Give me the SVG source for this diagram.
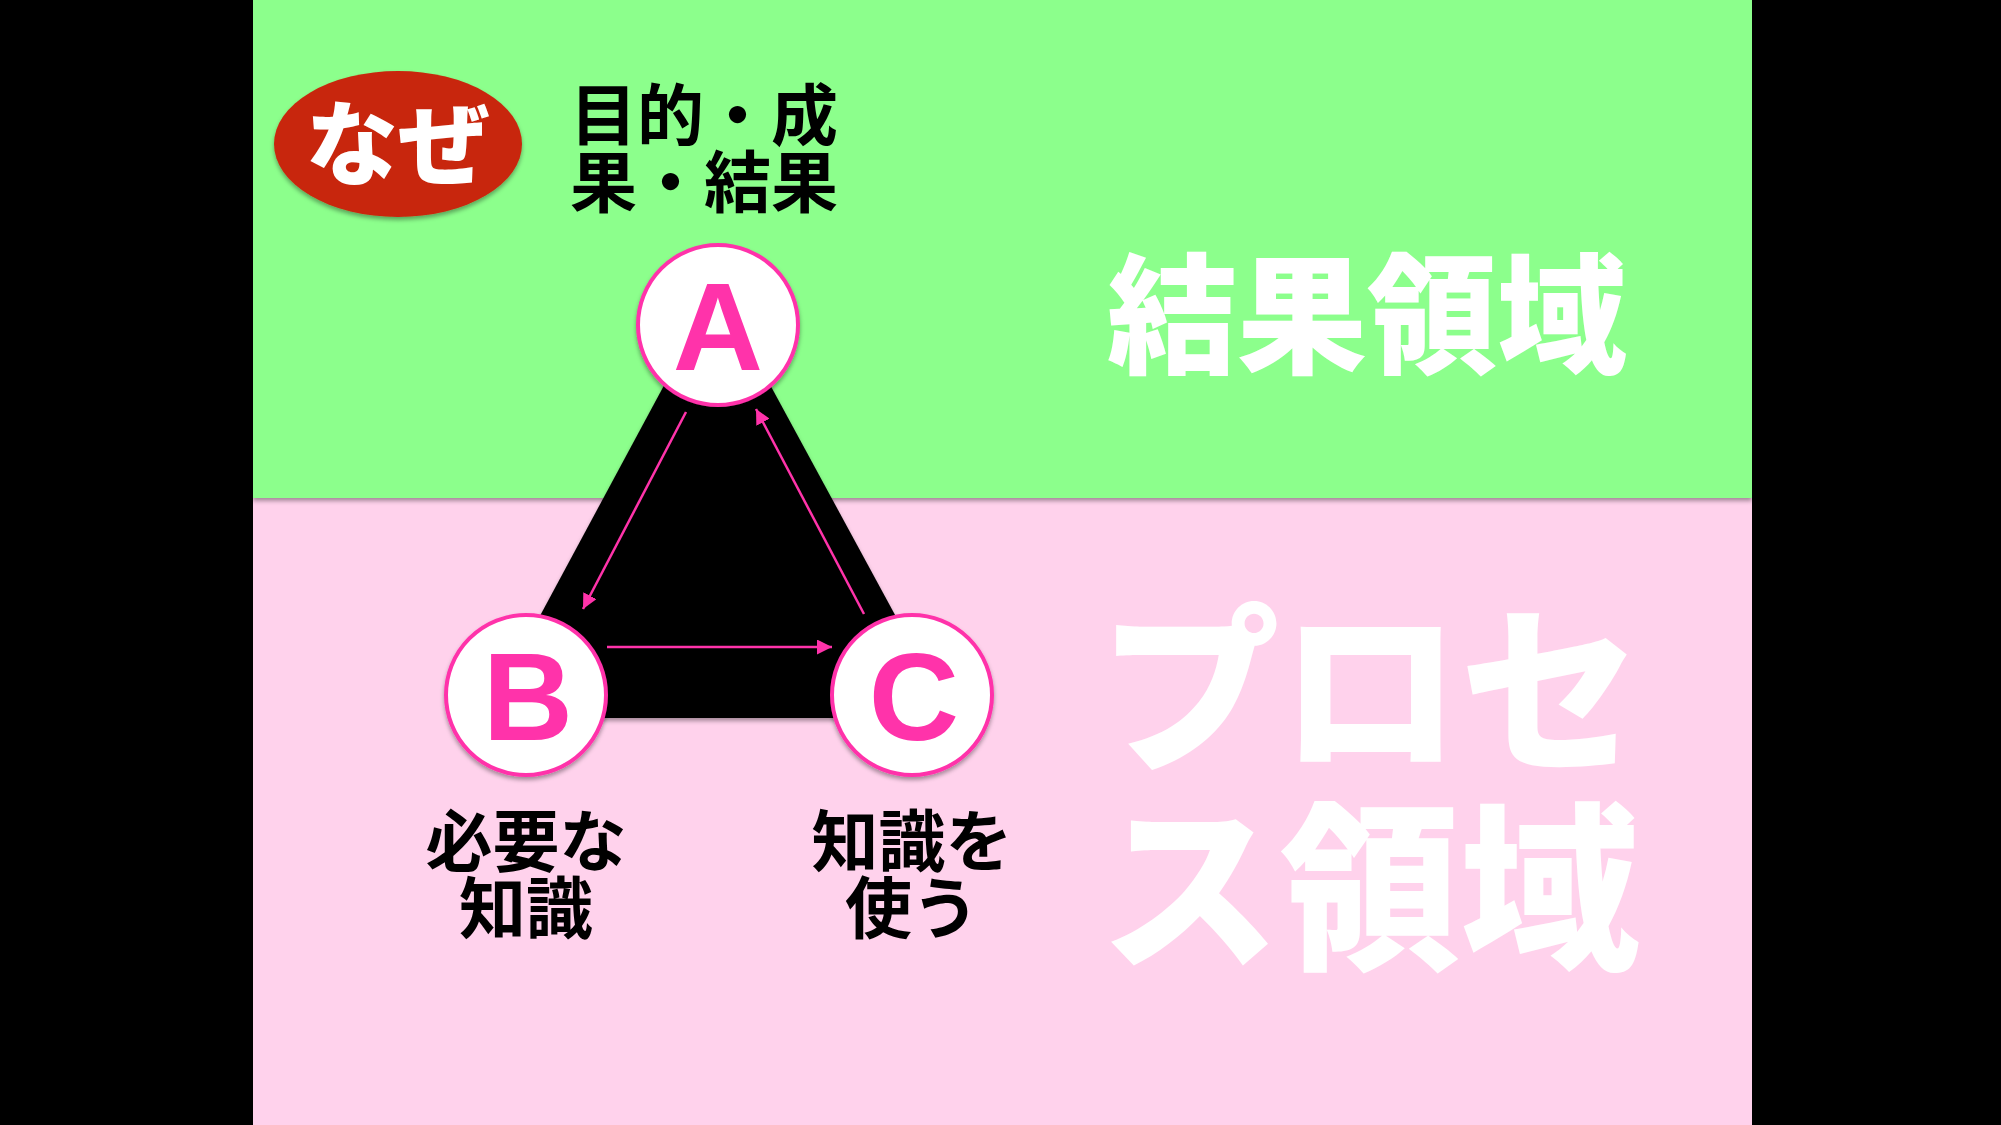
<svg xmlns="http://www.w3.org/2000/svg" width="2001" height="1125" viewBox="0 0 2001 1125">
<style>
.jp{font-family:"Noto Sans CJK JP","Noto Sans CJK SC",sans-serif;}
.lbl{font-size:67px;font-weight:700;fill:#000;text-anchor:middle;}
.big{font-weight:900;fill:#fff;text-anchor:middle;}
.node circle{fill:#fff;stroke:#ff33aa;stroke-width:4;}
.node text{font-family:"Liberation Sans",Arial,sans-serif;font-weight:700;font-size:125px;fill:#ff33aa;text-anchor:middle;}
.conn line{stroke:#ff33aa;stroke-width:2.5;marker-end:url(#ah);}
</style>
<defs>
<filter id="sh" x="-20%" y="-20%" width="140%" height="140%">
<feDropShadow dx="0" dy="3" stdDeviation="2" flood-color="#000" flood-opacity="0.35"/>
</filter>
<marker id="ah" viewBox="0 0 10 10" refX="10" refY="5" markerWidth="6" markerHeight="6" markerUnits="strokeWidth" orient="auto">
<path d="M0,0 L10,5 L0,10 z" fill="#ff33aa"/>
</marker>
</defs>
<rect x="0" y="0" width="2001" height="1125" fill="#000"/>
<rect x="253" y="0" width="1499" height="1125" fill="#ffd2ec"/>
<rect x="253" y="0" width="1499" height="498" fill="#8cff8c" filter="url(#sh)"/>

<g id="why">
<ellipse cx="398" cy="144" rx="124" ry="73" fill="#c8260a" filter="url(#sh)"/>
<text class="jp" x="398" y="178" font-size="92" font-weight="900" fill="#fff" text-anchor="middle">なぜ</text>
</g>
<g id="purpose">
<text class="jp lbl" x="704" y="140">目的・成</text>
<text class="jp lbl" x="704" y="207">果・結果</text>
</g>
<g id="result-area">
<text class="jp big" x="1367" y="363" font-size="130">結果領域</text>
</g>
<g id="process-area">
<text class="jp big" x="1370" y="757" font-size="180">プロセ</text>
<text class="jp big" x="1370" y="955" font-size="180">ス領域</text>
</g>

<g id="triangle">
<polygon points="717,287 485,718 951,718" fill="#000" filter="url(#sh)"/>
</g>

<g id="connectors" class="conn">
<line x1="686" y1="412" x2="583" y2="609"/>
<line x1="607" y1="647" x2="832" y2="647"/>
<line x1="864" y1="614" x2="756" y2="409"/>
</g>

<g id="nodeA" class="node">
<circle cx="718" cy="325" r="80" filter="url(#sh)"/>
<text x="718" y="370">A</text>
</g>
<g id="nodeB" class="node">
<circle cx="526" cy="695" r="80" filter="url(#sh)"/>
<text x="528" y="740">B</text>
</g>
<g id="nodeC" class="node">
<circle cx="912" cy="695" r="80" filter="url(#sh)"/>
<text x="914" y="740">C</text>
</g>

<g id="labelB">
<text class="jp lbl" x="526" y="866">必要な</text>
<text class="jp lbl" x="526" y="933">知識</text>
</g>
<g id="labelC">
<text class="jp lbl" x="912" y="866">知識を</text>
<text class="jp lbl" x="912" y="933">使う</text>
</g>
</svg>
